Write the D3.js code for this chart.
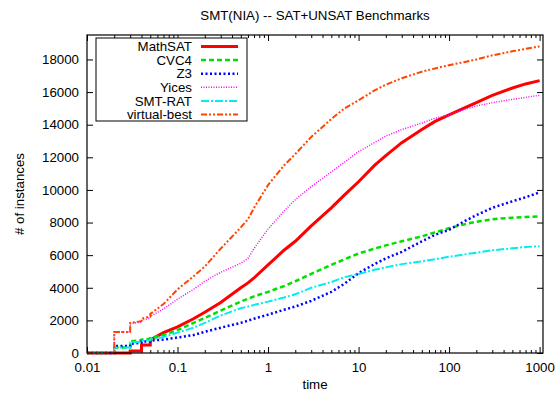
<!DOCTYPE html>
<html>
<head>
<meta charset="utf-8">
<script src="https://cdn.jsdelivr.net/npm/d3@7"></script>
<style>
  body { margin: 0; background: #fff; }
  svg { font-family: "Liberation Sans", Arial, sans-serif; }
</style>
</head>
<body>
<svg id="chart"></svg>
<script>
// time grid (repeated values give the steps at the start)
var times = [0.01, 0.02, 0.02, 0.03, 0.03, 0.04, 0.04, 0.05, 0.05, 0.07, 0.1, 0.15, 0.2, 0.3, 0.5, 0.6, 0.7,
             1, 1.5, 2, 3, 5, 7, 10, 15, 20, 30, 50, 70, 100, 150, 200, 300, 500, 700, 1000];

var mathsat = [0, 0, 0, 0, 120, 120, 490, 490, 800, 1250, 1600, 2100, 2500, 3100, 4000, 4300, 4600,
               5400, 6300, 6850, 7800, 8900, 9700, 10500, 11500, 12100, 12900, 13700, 14200, 14600, 15050, 15350, 15800, 16250, 16500, 16700];
var cvc4 = [0, 0, 330, 330, 720, 780, 820, 880, 920, 1100, 1400, 1850, 2150, 2600, 3150, 3330, 3470,
            3750, 4100, 4400, 4850, 5400, 5750, 6100, 6400, 6600, 6850, 7150, 7400, 7650, 7900, 8050, 8200, 8300, 8340, 8380];
var z3 = [0, 0, 430, 430, 560, 640, 700, 720, 760, 820, 950, 1100, 1300, 1550, 1850, 1980, 2100,
          2350, 2650, 2850, 3200, 3750, 4250, 4900, 5450, 5800, 6200, 6850, 7250, 7550, 8100, 8450, 8900, 9300, 9550, 9850];
var yices = [0, 0, 1290, 1290, 1800, 1900, 2000, 2150, 2250, 2700, 3300, 3900, 4400, 4950, 5500, 5800, 6400,
             7600, 8700, 9400, 10200, 11100, 11700, 12350, 12900, 13300, 13700, 14100, 14400, 14600, 14950, 15150, 15350, 15550, 15680, 15800];
var smtrat = [0, 0, 330, 330, 650, 700, 740, 780, 820, 980, 1250, 1550, 1850, 2300, 2750, 2850, 2950,
              3150, 3400, 3600, 4000, 4350, 4650, 4850, 5100, 5250, 5450, 5620, 5750, 5900, 6050, 6150, 6300, 6420, 6500, 6550];
var virtualBest = [0, 0, 1290, 1290, 1850, 1950, 2100, 2250, 2400, 3000, 3900, 4700, 5300, 6400, 7700, 8200, 8900,
                   10300, 11500, 12200, 13250, 14350, 15000, 15500, 16100, 16450, 16850, 17250, 17450, 17650, 17850, 18000, 18250, 18500, 18650, 18800];

var seriesNames = ["MathSAT", "CVC4", "Z3", "Yices", "SMT-RAT", "virtual-best"];
var seriesValues = [mathsat, cvc4, z3, yices, smtrat, virtualBest];
var seriesColors = ["#ff0000", "#00e000", "#0000ff", "#ff00ff", "#00eeee", "#ff4500"];
var seriesDash = [null, "5,3", "2,2.5", "1,1.5", "8,2,2,2", "6,2,2,2,2,2"];
var seriesWidth = [3, 2.5, 2.5, 1.5, 2, 2];

var xTicks = [0.01, 0.1, 1, 10, 100, 1000];
var yTicks = [0, 2000, 4000, 6000, 8000, 10000, 12000, 14000, 16000, 18000];

var width = 556, height = 394;
var margin = {top: 35, right: 13, bottom: 41, left: 87};
var plotW = width - margin.left - margin.right,
    plotH = height - margin.top - margin.bottom;
var fontSize = 13.3;

var svg = d3.select("#chart")
    .attr("width", width)
    .attr("height", height);

var x = d3.scaleLog().domain([0.01, 1090]).range([0, plotW]);
var y = d3.scaleLinear().domain([0, 19500]).range([plotH, 0]);

var g = svg.append("g")
    .attr("transform", "translate(" + margin.left + "," + margin.top + ")");

// minor ticks on the log axis
var minor = [];
xTicks.forEach(function(t) {
    for (var k = 2; k <= 9; k++) if (t * k < 1090) minor.push(t * k);
});

// axes, ticks pointing inwards on all four sides
g.append("g").attr("class", "axis")
    .attr("transform", "translate(0," + plotH + ")")
    .call(d3.axisBottom(x).tickValues(xTicks).tickSize(-6).tickPadding(10)
        .tickFormat(function(d) { return String(d); }));
g.append("g").attr("class", "axis")
    .attr("transform", "translate(0," + plotH + ")")
    .call(d3.axisBottom(x).tickValues(minor).tickSize(-3).tickFormat(""));
g.append("g").attr("class", "axis")
    .call(d3.axisTop(x).tickValues(xTicks).tickSize(-6).tickFormat(""));
g.append("g").attr("class", "axis")
    .call(d3.axisTop(x).tickValues(minor).tickSize(-3).tickFormat(""));
g.append("g").attr("class", "axis")
    .call(d3.axisLeft(y).tickValues(yTicks).tickSize(-6).tickPadding(8)
        .tickFormat(function(d) { return String(d); }));
g.append("g").attr("class", "axis")
    .attr("transform", "translate(" + plotW + ",0)")
    .call(d3.axisRight(y).tickValues(yTicks).tickSize(-6).tickFormat(""));

g.selectAll(".axis .domain").remove();
g.selectAll(".axis line").attr("stroke", "#000").attr("stroke-width", 1);
g.selectAll(".axis text").attr("font-size", fontSize).attr("fill", "#000")
    .attr("font-family", "Liberation Sans, Arial, sans-serif");

// lines
var line = d3.line()
    .x(function(d) { return x(d[0]); })
    .y(function(d) { return y(d[1]); });

seriesValues.forEach(function(vals, i) {
    var pts = times.map(function(t, j) { return [t, vals[j]]; });
    g.append("path")
        .datum(pts)
        .attr("fill", "none")
        .attr("stroke", seriesColors[i])
        .attr("stroke-width", seriesWidth[i])
        .attr("stroke-dasharray", seriesDash[i])
        .attr("d", line);
});

// frame
g.append("rect")
    .attr("width", plotW).attr("height", plotH)
    .attr("fill", "none").attr("stroke", "#000").attr("stroke-width", 1.2);

// legend
var leg = svg.append("g").attr("transform", "translate(96,38)");
leg.append("rect")
    .attr("width", 151).attr("height", 83)
    .attr("fill", "#fff").attr("stroke", "#000").attr("stroke-width", 1);
seriesNames.forEach(function(name, i) {
    var ly = 8.5 + i * 13.6;
    leg.append("text")
        .attr("x", 96).attr("y", ly).attr("dy", "0.35em")
        .attr("text-anchor", "end").attr("font-size", fontSize)
        .text(name);
    leg.append("line")
        .attr("x1", 105).attr("x2", 142).attr("y1", ly).attr("y2", ly)
        .attr("stroke", seriesColors[i])
        .attr("stroke-width", seriesWidth[i])
        .attr("stroke-dasharray", seriesDash[i]);
});

// titles
svg.append("text")
    .attr("x", margin.left + plotW / 2).attr("y", 20)
    .attr("text-anchor", "middle").attr("font-size", fontSize)
    .text("SMT(NIA) -- SAT+UNSAT Benchmarks");
svg.append("text")
    .attr("x", margin.left + plotW / 2).attr("y", 389)
    .attr("text-anchor", "middle").attr("font-size", fontSize)
    .text("time");
svg.append("text")
    .attr("transform", "translate(24," + (margin.top + plotH / 2) + ") rotate(-90)")
    .attr("text-anchor", "middle").attr("font-size", fontSize)
    .text("# of instances");
</script>
</body>
</html>
